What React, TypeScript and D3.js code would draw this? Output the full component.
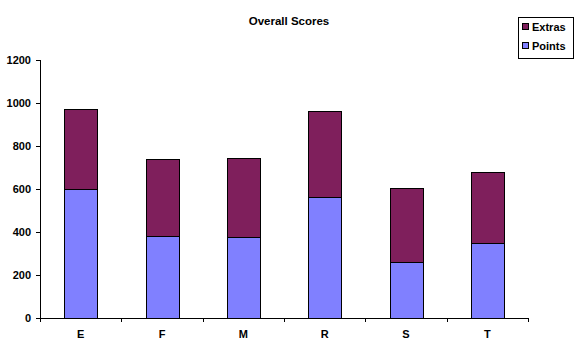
import { useMemo } from "react"
import * as d3 from "d3"

// data
const categories = ["E", "F", "M", "R", "S", "T"]
const points = [598, 383, 375, 565, 262, 348]
const extras = [373, 355, 369, 397, 342, 330]
const yTicks = [0, 200, 400, 600, 800, 1000, 1200]
const seriesNames = ["Points", "Extras"]
const seriesColors = ["#8080FF", "#7F1F5C"]

const width = 578
const height = 360
const margin = { top: 60, right: 50, bottom: 42, left: 40 }
const font = "'Liberation Sans', Arial, sans-serif"

const App = () => {
  const x = useMemo(() => d3.scaleBand()
    .domain(categories)
    .range([margin.left, width - margin.right])
    .paddingInner(0.6)
    .paddingOuter(0.3), [])

  const y = useMemo(() => d3.scaleLinear()
    .domain([0, 1200])
    .range([height - margin.bottom, margin.top]), [])

  const stacked = useMemo(() => {
    const rows = categories.map((c, i) => ({ cat: c, Points: points[i], Extras: extras[i] }))
    return d3.stack<any>().keys(seriesNames)(rows)
  }, [])

  const x0 = margin.left
  const x1 = width - margin.right
  const yBase = y(0)
  // category boundaries for tick marks
  const step = (x1 - x0) / categories.length
  const xTickPos = d3.range(categories.length + 1).map(i => x0 + i * step)

  return (
    <svg width={width} height={height} style={{ position: "absolute", left: 0, top: 0 }}
      fontFamily={font} fontWeight="bold" fontSize={11}>
      <rect width={width} height={height} fill="#fff" />

      {/* title */}
      <text x={289} y={25} textAnchor="middle" fontSize={11.5}>Overall Scores</text>

      {/* bars */}
      {stacked.map((s, si) => (
        <g key={s.key} fill={seriesColors[si]} stroke="#000" strokeWidth={1}>
          {s.map((d, i) => (
            <rect key={categories[i]}
              x={Math.round(x(categories[i])!) + 0.5}
              y={Math.round(y(d[1])) + 0.5}
              width={Math.round(x.bandwidth())}
              height={Math.round(y(d[0])) - Math.round(y(d[1]))} />
          ))}
        </g>
      ))}

      {/* y axis */}
      <line x1={x0 + 0.5} x2={x0 + 0.5} y1={y(1200)} y2={yBase} stroke="#000" />
      {yTicks.map(t => (
        <g key={t}>
          <line x1={x0 - 4} x2={x0} y1={Math.round(y(t)) + 0.5} y2={Math.round(y(t)) + 0.5} stroke="#000" />
          <text x={x0 - 9} y={y(t)} dy="0.35em" textAnchor="end">{t}</text>
        </g>
      ))}

      {/* x axis */}
      <line x1={x0} x2={x1} y1={Math.round(yBase) + 0.5} y2={Math.round(yBase) + 0.5} stroke="#000" />
      {xTickPos.map((p, i) => (
        <line key={i} x1={Math.round(p) + 0.5} x2={Math.round(p) + 0.5}
          y1={yBase} y2={yBase + 4} stroke="#000" />
      ))}
      {categories.map(c => (
        <text key={c} x={x(c)! + x.bandwidth() / 2} y={338} textAnchor="middle">{c}</text>
      ))}

      {/* legend */}
      <g>
        <rect x={518.5} y={17.5} width={55} height={41} fill="#fff" stroke="#000" />
        {[...seriesNames].reverse().map((n, i) => {
          const ci = seriesNames.indexOf(n)
          return (
            <g key={n} transform={`translate(522,${27 + i * 19})`}>
              <rect x={0.5} y={-3.5} width={6} height={6} fill={seriesColors[ci]} stroke="#000" />
              <text x={10} y={0} dy="0.35em">{n}</text>
            </g>
          )
        })}
      </g>
    </svg>
  )
}

export default App
